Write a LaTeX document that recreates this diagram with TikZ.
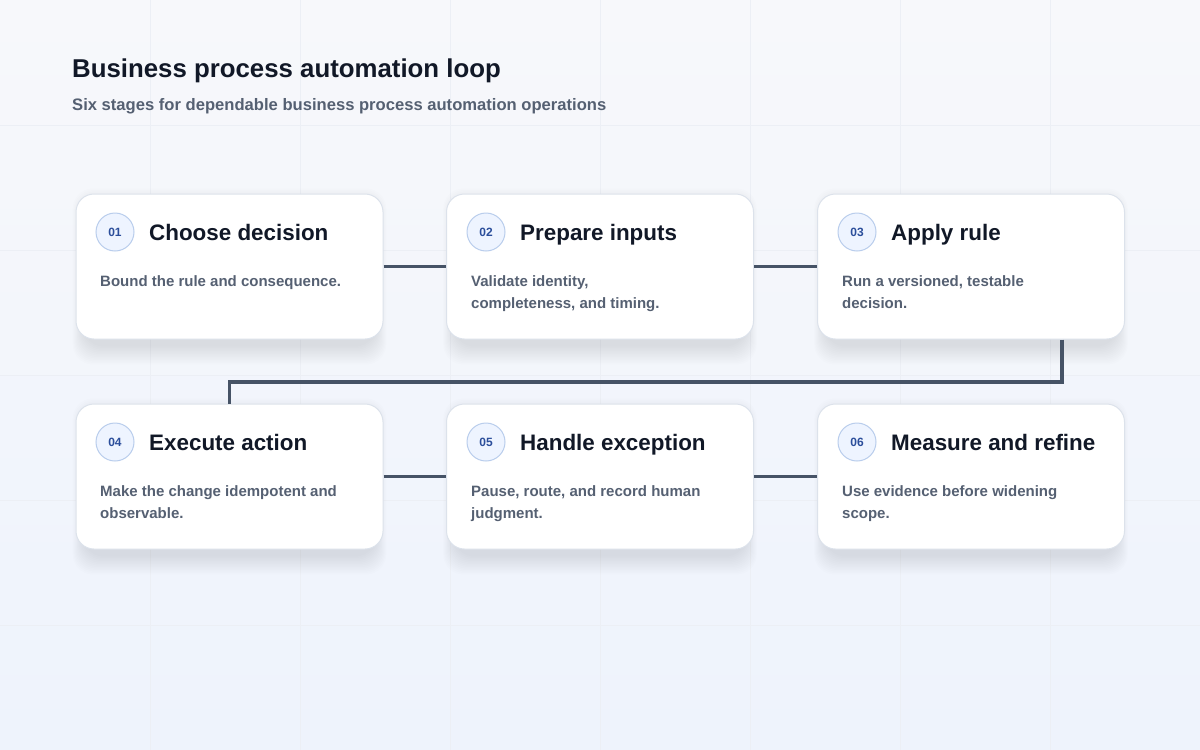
\documentclass[tikz,border=0pt]{standalone}
\usepackage{fontspec}
\setmainfont{Liberation Sans}

\definecolor{bgtop}{HTML}{F7F8FB}
\definecolor{bgbot}{HTML}{EEF3FC}
\definecolor{gridline}{HTML}{ECEFF5}
\definecolor{ink}{HTML}{111827}
\definecolor{muted}{HTML}{556072}
\definecolor{cardline}{HTML}{DCE2EB}
\definecolor{shadowcol}{HTML}{1E2A45}
\definecolor{badgefill}{HTML}{EEF4FF}
\definecolor{badgeline}{HTML}{B9CDEC}
\definecolor{badgetext}{HTML}{2B4E9B}
\definecolor{linkcol}{HTML}{465366}

\begin{document}
\begin{tikzpicture}[x=1pt, y=-1pt,
    card/.style={rectangle, rounded corners=18pt, draw=cardline, line width=1pt, fill=white,
        minimum width=307pt, minimum height=145pt},
    badge/.style={circle, draw=badgeline, line width=1pt, fill=badgefill, minimum size=38pt, inner sep=0pt,
        text=badgetext, font=\fontsize{12}{12}\selectfont\bfseries},
    stagetitle/.style={anchor=base west, inner sep=0pt, text=ink, font=\fontsize{22.4}{26}\selectfont\bfseries},
    stagetext/.style={anchor=base west, inner sep=0pt, align=left, text=muted, font=\fontsize{15}{22}\selectfont\bfseries},
    link/.style={draw=linkcol, line width=3.5pt}]

        % background and grid
        \shade[top color=bgtop, bottom color=bgbot] (0,0) rectangle (1200,750);
        \useasboundingbox (0,0) rectangle (1200,750);
        \foreach \gx in {150,300,...,1050} \draw[gridline, line width=0.8pt] (\gx,0) -- (\gx,750);
        \foreach \gy in {125,250,...,625} \draw[gridline, line width=0.8pt] (0,\gy) -- (1200,\gy);

        \node[anchor=base west, inner sep=0pt, text=ink, font=\fontsize{25.8}{30}\selectfont\bfseries] (head) at (72,77) {Business process automation loop};
        \node[anchor=base west, inner sep=0pt, text=muted, font=\fontsize{16.6}{20}\selectfont\bfseries] (sub) at (72,110) {Six stages for dependable business process automation operations};

        % soft shadows under the cards
        \foreach \cx/\cy in {229.5/266.5, 600/266.5, 971/266.5, 229.5/476.5, 600/476.5, 971/476.5}
            \foreach \s in {0,1.5,...,18}
                \fill[shadowcol, fill opacity=0.008, rounded corners=20pt]
                    (\cx-146-0.6*\s, \cy-60-\s) rectangle (\cx+146+0.6*\s, \cy+80+\s);

        \node[card] (c1) at (229.5,266.5) {};
        \node[card] (c2) at (600,266.5) {};
        \node[card] (c3) at (971,266.5) {};
        \node[card] (c4) at (229.5,476.5) {};
        \node[card] (c5) at (600,476.5) {};
        \node[card] (c6) at (971,476.5) {};

        % connectors
        \coordinate (turn) at (1062,382);
        \draw[link] (c1.east) -- (c2.west);
        \draw[link] (c2.east) -- (c3.west);
        \draw[link] ([xshift=91pt]c3.south) -- (turn) -| (c4.north);
        \draw[link] (c4.east) -- (c5.west);
        \draw[link] (c5.east) -- (c6.west);

        \node[badge] (n1) at (115,232) {01};
        \node[badge] (n2) at (486,232) {02};
        \node[badge] (n3) at (857,232) {03};
        \node[badge] (n4) at (115,442) {04};
        \node[badge] (n5) at (486,442) {05};
        \node[badge] (n6) at (857,442) {06};

        \node[stagetitle] (t1) at (149,240) {Choose decision};
        \node[stagetitle] (t2) at (520,240) {Prepare inputs};
        \node[stagetitle] (t3) at (891,240) {Apply rule};
        \node[stagetitle] (t4) at (149,450) {Execute action};
        \node[stagetitle] (t5) at (520,450) {Handle exception};
        \node[stagetitle] (t6) at (891,450) {Measure and refine};

        % two-line texts sit on their last line
        \node[stagetext] (d1) at (100,286) {Bound the rule and consequence.};
        \node[stagetext] (d2) at (471,308) {Validate identity,\\completeness, and timing.};
        \node[stagetext] (d3) at (842,308) {Run a versioned, testable\\decision.};
        \node[stagetext] (d4) at (100,518) {Make the change idempotent and\\observable.};
        \node[stagetext] (d5) at (471,518) {Pause, route, and record human\\judgment.};
        \node[stagetext] (d6) at (842,518) {Use evidence before widening\\scope.};
    \end{tikzpicture}
\end{document}
